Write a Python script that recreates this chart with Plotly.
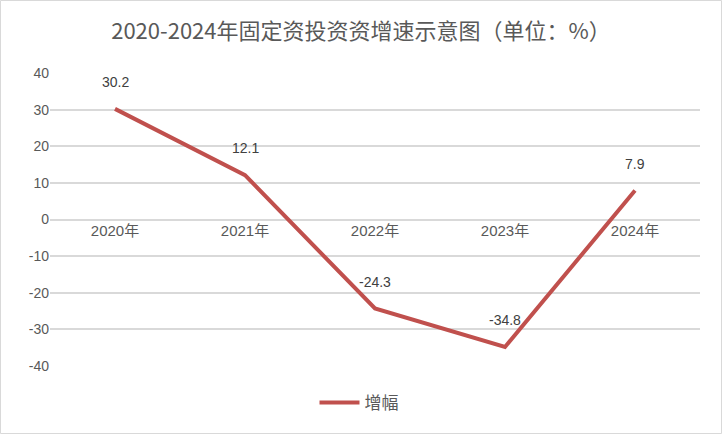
import plotly.graph_objects as go

years = ["2020年", "2021年", "2022年", "2023年", "2024年"]
growth = [30.2, 12.1, -24.3, -34.8, 7.9]
series_name = "增幅"
title_text = "2020-2024年固定资投资资增速示意图（单位：%）"
y_ticks = [40, 30, 20, 10, 0, -10, -20, -30, -40]
y_tick_labels = ["40", "30", "20", "10", "0", "-10", "-20", "-30", "-40"]

W, H = 722, 434
ml, mr, mt, mb = 50, 22, 73, 68
pw, ph = W - ml - mr, H - mt - mb

fig = go.Figure()
fig.add_trace(go.Scatter(
    x=years, y=growth, mode="lines", name=series_name,
    line=dict(color="#C0504D", width=4),
))

for xv, yv in zip(years, growth):
    fig.add_annotation(x=xv, y=yv, text=f"{yv}", showarrow=False,
                       yshift=27, font=dict(size=14, color="#404040",
                                            family="Liberation Sans, Arial, sans-serif"))

fig.add_shape(type="rect", xref="paper", yref="paper",
              x0=(0.5 - ml) / pw, x1=(W - 0.5 - ml) / pw,
              y0=-(mb - 0.5) / ph, y1=1 + (mt - 0.5) / ph,
              line=dict(color="#D9D9D9", width=1), fillcolor="rgba(0,0,0,0)")

fig.update_layout(
    width=W, height=H,
    margin=dict(l=ml, r=mr, t=mt, b=mb),
    paper_bgcolor="white", plot_bgcolor="white",
    title=dict(text=title_text, x=0.5, xanchor="center", y=1 - 31 / H, yanchor="middle",
               font=dict(size=22, color="#595959", family="Noto Sans CJK SC, sans-serif")),
    font=dict(family="Noto Sans CJK SC, sans-serif", color="#595959"),
    showlegend=True,
    legend=dict(orientation="h", x=(359 - ml) / pw, xanchor="center", y=-(403 - 366) / ph, yanchor="middle",
                font=dict(size=17, color="#595959"), itemwidth=40),
    xaxis=dict(anchor="free", position=0.5, showline=False, showgrid=False, zeroline=False,
               ticks="", tickfont=dict(size=15, color="#595959", family="Liberation Sans, Noto Sans CJK SC, sans-serif"),
               range=[-0.5, 4.5]),
    yaxis=dict(range=[-40, 40], tickvals=y_ticks, ticktext=y_tick_labels,
               showgrid=True, gridcolor="#D9D9D9", gridwidth=1.5,
               zeroline=False, showline=False, ticks="",
               tickfont=dict(size=14, color="#595959", family="Liberation Sans, Arial, sans-serif")),
)

fig.write_html("out.html", config={"displayModeBar": False},
               post_script="document.body.style.margin='0';")
